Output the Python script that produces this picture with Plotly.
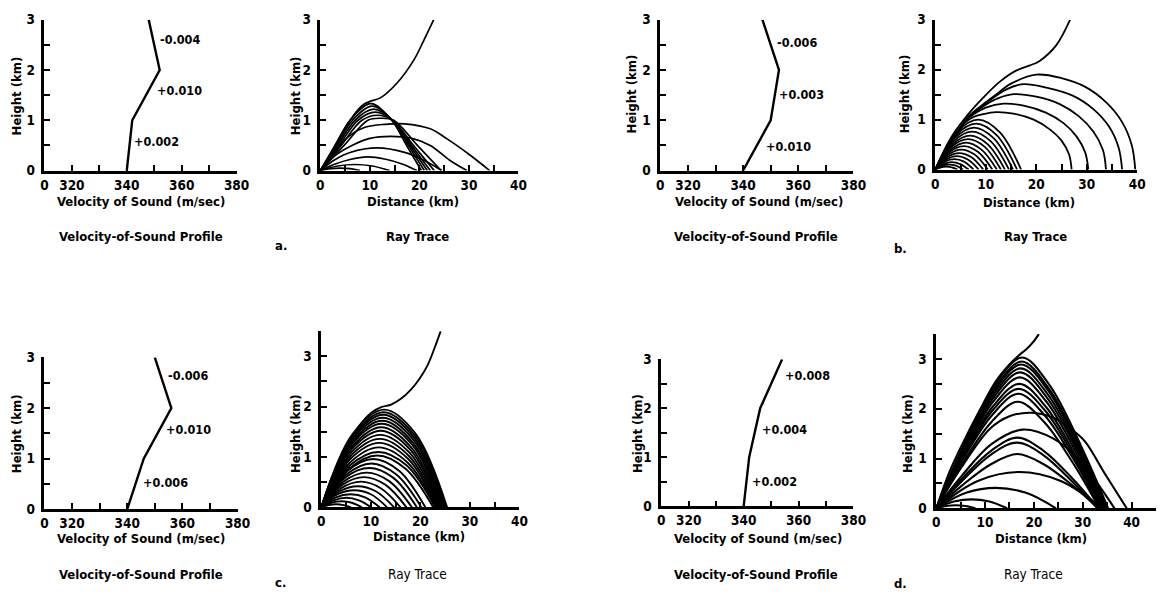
import plotly.graph_objects as go

W, H = 1169, 600

# ------------------------------------------------------------------ data
profile_height = [0, 1, 2, 3]
profile_a_speed = [340, 342, 352, 348]
profile_b_speed = [340, 350, 353, 347]
profile_c_speed = [340, 346, 356, 350]
profile_d_speed = [340, 342, 346, 354]

# gradient labels, bottom layer -> top layer
gradients_a = ["+0.002", "+0.010", "-0.004"]
gradients_b = ["+0.010", "+0.003", "-0.006"]
gradients_c = ["+0.006", "+0.010", "-0.006"]
gradients_d = ["+0.002", "+0.004", "+0.008"]

profile_x_ticks = [310, 320, 330, 340, 350, 360, 370, 380]
profile_x_text = ["0", "320", "", "340", "", "360", "", "380"]
height_ticks = [0, 0.5, 1, 1.5, 2, 2.5, 3, 3.5]
height_text = ["0", "", "1", "", "2", "", "3", ""]
dist_ticks = [0, 5, 10, 15, 20, 25, 30, 35, 40, 45]
dist_text = ["0", "", "10", "", "20", "", "30", "", "40", ""]

# ray paths (distance km, height km)
rays_a_x = [
    [0, 2.8, 5.5, 7.5, 8.8, 10.2, 12.2, 15.5, 18.9, 20.9, 22.9],
    [0, 3.0, 6.0, 10.2, 14.4, 17.4, 20.4],
    [0, 3.25, 6.5, 10.5, 14.5, 17.75, 21.0],
    [0, 3.5, 7.0, 10.8, 14.6, 18.1, 21.6],
    [0, 3.8, 7.6, 11.1, 14.6, 18.4, 22.2],
    [0, 4.2, 8.4, 11.5, 14.6, 18.8, 23.0],
    [0, 4.8, 9.6, 12.2, 14.8, 19.6, 24.4],
    [0, 3, 6, 9, 13, 17, 22.2, 25.6, 30.2, 34.2],
    [0, 3, 6.8, 10, 14.2, 18.5, 22.2, 26.2, 29.6],
    [0, 3, 6, 11.5, 17, 21, 24.5],
    [0, 3, 6, 9.5, 13, 16.5, 19.5],
    [0, 3.5, 7, 10.5, 14],
    [0, 2, 4, 6, 8],
]
rays_a_y = [
    [0, 0.47, 0.92, 1.2, 1.32, 1.38, 1.45, 1.74, 2.2, 2.59, 3.0],
    [0, 0.5, 1, 1.33, 1, 0.5, 0],
    [0, 0.5, 1, 1.28, 1, 0.5, 0],
    [0, 0.5, 1, 1.22, 1, 0.5, 0],
    [0, 0.5, 1, 1.16, 1, 0.5, 0],
    [0, 0.5, 1, 1.10, 1, 0.5, 0],
    [0, 0.5, 1, 1.04, 1, 0.5, 0],
    [0, 0.4, 0.7, 0.86, 0.92, 0.93, 0.83, 0.63, 0.31, 0],
    [0, 0.3, 0.52, 0.64, 0.68, 0.64, 0.5, 0.2, 0],
    [0, 0.22, 0.36, 0.45, 0.36, 0.2, 0],
    [0, 0.13, 0.22, 0.27, 0.23, 0.13, 0],
    [0, 0.09, 0.12, 0.09, 0],
    [0, 0.04, 0.05, 0.04, 0],
]

rays_b_x = [
    [0, 3, 6.3, 9.5, 12.8, 16, 18.6, 20.6, 23.9, 26.7],
    [0, 3.5, 6.5, 9, 12, 15, 20, 25, 29.8, 33.9, 37, 38.9, 39.6],
    [0, 3.5, 6.5, 8.5, 11, 14, 17.4, 22, 27.2, 31.3, 34.4, 36.3, 37],
    [0, 3.5, 6.3, 8, 10, 12.5, 15.5, 20, 24.65, 28.4, 31.3, 33.2, 33.8],
    [0, 3.5, 6.2, 7.8, 10, 13.5, 17.5, 21.9, 25.4, 28, 29.7, 30.3],
    [0, 3.5, 6, 7.5, 9.5, 12, 15.5, 19.5, 22.6, 25, 26.5, 27],
    [0, 4.25, 8.5, 12.75, 17],
    [0, 4.05, 8.1, 12.15, 16.2],
    [0, 3.85, 7.7, 11.55, 15.4],
    [0, 3.65, 7.3, 10.95, 14.6],
    [0, 3.45, 6.9, 10.35, 13.8],
    [0, 3.25, 6.5, 9.75, 13.0],
    [0, 3.05, 6.1, 9.15, 12.2],
    [0, 2.8, 5.65, 8.5, 11.3],
    [0, 2.6, 5.2, 7.8, 10.4],
    [0, 2.4, 4.75, 7.1, 9.5],
    [0, 2.15, 4.3, 6.45, 8.6],
    [0, 1.9, 3.8, 5.7, 7.6],
    [0, 1.65, 3.3, 4.95, 6.6],
    [0, 1.4, 2.75, 4.1, 5.5],
    [0, 1.1, 2.2, 3.3, 4.4],
]
rays_b_y = [
    [0, 0.62, 1.08, 1.44, 1.76, 1.98, 2.08, 2.17, 2.48, 3.0],
    [0, 0.62, 1.05, 1.27, 1.5, 1.72, 1.9, 1.83, 1.65, 1.34, 0.95, 0.49, 0],
    [0, 0.62, 1.04, 1.2, 1.4, 1.6, 1.71, 1.64, 1.48, 1.21, 0.86, 0.44, 0],
    [0, 0.62, 1.02, 1.16, 1.3, 1.43, 1.51, 1.46, 1.31, 1.07, 0.76, 0.39, 0],
    [0, 0.62, 1.0, 1.12, 1.24, 1.32, 1.28, 1.14, 0.93, 0.66, 0.34, 0],
    [0, 0.6, 0.95, 1.05, 1.11, 1.15, 1.12, 1.0, 0.81, 0.58, 0.3, 0],
    [0, 0.75, 1.0, 0.75, 0],
    [0, 0.69, 0.92, 0.69, 0],
    [0, 0.63, 0.84, 0.63, 0],
    [0, 0.57, 0.76, 0.57, 0],
    [0, 0.51, 0.68, 0.51, 0],
    [0, 0.46, 0.61, 0.46, 0],
    [0, 0.40, 0.54, 0.40, 0],
    [0, 0.35, 0.47, 0.35, 0],
    [0, 0.30, 0.40, 0.30, 0],
    [0, 0.25, 0.33, 0.25, 0],
    [0, 0.20, 0.27, 0.20, 0],
    [0, 0.16, 0.21, 0.16, 0],
    [0, 0.11, 0.15, 0.11, 0],
    [0, 0.08, 0.10, 0.08, 0],
    [0, 0.045, 0.06, 0.045, 0],
]

rays_c_x = [
    [0, 2.1, 4.8, 7.5, 10.1, 12.1, 14.1, 16, 18.1, 19.8, 21.5, 23, 24.1],
    [0, 6.35, 12.7, 19.05, 25.4],
    [0, 6.3, 12.6, 18.9, 25.2],
    [0, 6.25, 12.5, 18.75, 25.0],
    [0, 6.2, 12.4, 18.6, 24.8],
    [0, 6.15, 12.3, 18.45, 24.6],
    [0, 6.1, 12.2, 18.3, 24.4],
    [0, 6.05, 12.1, 18.15, 24.2],
    [0, 6.0, 12.0, 18.0, 24.0],
    [0, 5.95, 11.9, 17.85, 23.8],
    [0, 5.9, 11.8, 17.7, 23.6],
    [0, 5.85, 11.7, 17.55, 23.4],
    [0, 5.8, 11.6, 17.4, 23.2],
    [0, 5.75, 11.5, 17.25, 23.0],
    [0, 5.65, 11.3, 16.95, 22.6],
    [0, 5.25, 10.5, 15.75, 21.0],
    [0, 5.05, 10.1, 15.15, 20.2],
    [0, 4.8, 9.65, 14.5, 19.3],
    [0, 4.6, 9.15, 13.7, 18.3],
    [0, 4.3, 8.6, 12.9, 17.2],
    [0, 4.0, 8.0, 12.0, 16.0],
    [0, 3.7, 7.35, 11.0, 14.7],
    [0, 3.3, 6.65, 10.0, 13.3],
    [0, 2.95, 5.9, 8.85, 11.8],
    [0, 2.5, 5.05, 7.6, 10.1],
    [0, 2.05, 4.1, 6.15, 8.2],
    [0, 1.5, 3.0, 4.5, 6.0],
]
rays_c_y = [
    [0, 0.58, 1.15, 1.6, 1.88, 1.99, 2.04, 2.15, 2.34, 2.55, 2.83, 3.2, 3.5],
    [0, 1.46, 1.94, 1.46, 0],
    [0, 1.42, 1.89, 1.42, 0],
    [0, 1.38, 1.84, 1.38, 0],
    [0, 1.34, 1.78, 1.34, 0],
    [0, 1.29, 1.72, 1.29, 0],
    [0, 1.25, 1.66, 1.25, 0],
    [0, 1.19, 1.59, 1.19, 0],
    [0, 1.14, 1.52, 1.14, 0],
    [0, 1.08, 1.44, 1.08, 0],
    [0, 1.02, 1.36, 1.02, 0],
    [0, 0.96, 1.28, 0.96, 0],
    [0, 0.89, 1.19, 0.89, 0],
    [0, 0.83, 1.10, 0.83, 0],
    [0, 0.77, 1.03, 0.77, 0],
    [0, 0.72, 0.96, 0.72, 0],
    [0, 0.65, 0.87, 0.65, 0],
    [0, 0.59, 0.78, 0.59, 0],
    [0, 0.52, 0.69, 0.52, 0],
    [0, 0.45, 0.60, 0.45, 0],
    [0, 0.38, 0.51, 0.38, 0],
    [0, 0.32, 0.42, 0.32, 0],
    [0, 0.26, 0.34, 0.26, 0],
    [0, 0.20, 0.26, 0.20, 0],
    [0, 0.14, 0.19, 0.14, 0],
    [0, 0.09, 0.12, 0.09, 0],
    [0, 0.045, 0.06, 0.045, 0],
]

rays_d_x = [
    [0, 2.8, 5.5, 8.9, 12.2, 14.9, 16.9, 18.5, 20, 21],
    [0, 5.63, 11.97, 17.6, 23.23, 29.57, 35.2],
    [0, 5.6, 11.9, 17.5, 23.1, 29.4, 35.0],
    [0, 5.57, 11.83, 17.4, 22.97, 29.23, 34.8],
    [0, 5.54, 11.76, 17.3, 22.84, 29.06, 34.6],
    [0, 5.5, 11.7, 17.2, 22.7, 28.9, 34.4],
    [0, 5.47, 11.63, 17.1, 22.57, 28.73, 34.2],
    [0, 5.44, 11.56, 17.0, 22.44, 28.56, 34.0],
    [0, 5.41, 11.49, 16.9, 22.31, 28.39, 33.8],
    [0, 5.38, 11.42, 16.8, 22.18, 28.22, 33.6],
    [0, 5.34, 11.36, 16.7, 22.04, 28.06, 33.4],
    [0, 5, 11, 15, 19.5, 24, 27.5, 30.4, 34.5, 39],
    [0, 5.3, 11.3, 17.6, 24, 29, 33, 36.5],
    [0, 5.31, 11.29, 16.6, 21.91, 27.89, 33.2],
    [0, 5.28, 11.22, 16.5, 21.78, 27.72, 33.0],
    [0, 5.31, 11.29, 16.6, 21.91, 27.89, 33.2],
    [0, 8.5, 17, 25.5, 34],
    [0, 6.1, 12.25, 18.4, 24.5],
    [0, 3.6, 7.25, 10.9, 14.5],
    [0, 2, 4, 6, 8],
]
rays_d_y = [
    [0, 0.75, 1.32, 1.97, 2.55, 2.88, 3.07, 3.2, 3.36, 3.5],
    [0, 1.27, 2.47, 3.03, 2.47, 1.27, 0],
    [0, 1.24, 2.40, 2.95, 2.40, 1.24, 0],
    [0, 1.21, 2.36, 2.89, 2.36, 1.21, 0],
    [0, 1.18, 2.29, 2.81, 2.29, 1.18, 0],
    [0, 1.15, 2.22, 2.73, 2.22, 1.15, 0],
    [0, 1.10, 2.14, 2.63, 2.14, 1.10, 0],
    [0, 1.05, 2.04, 2.50, 2.04, 1.05, 0],
    [0, 1.01, 1.96, 2.40, 1.96, 1.01, 0],
    [0, 0.97, 1.87, 2.30, 1.87, 0.97, 0],
    [0, 0.90, 1.74, 2.14, 1.74, 0.90, 0],
    [0, 0.8, 1.6, 1.85, 1.92, 1.82, 1.6, 1.35, 0.7, 0],
    [0, 0.66, 1.29, 1.58, 1.4, 1.0, 0.5, 0],
    [0, 0.60, 1.16, 1.42, 1.16, 0.60, 0],
    [0, 0.55, 1.08, 1.32, 1.08, 0.55, 0],
    [0, 0.46, 0.89, 1.09, 0.89, 0.46, 0],
    [0, 0.55, 0.73, 0.55, 0],
    [0, 0.31, 0.41, 0.31, 0],
    [0, 0.135, 0.18, 0.135, 0],
    [0, 0.045, 0.06, 0.045, 0],
]

# ------------------------------------------------------------------ layout helpers
FONT = "Liberation Sans Narrow, DejaVu Sans Condensed, Arial Narrow, sans-serif"


def px_x(v):
    return v / W


def px_y(v):
    return 1 - v / H


# (x-domain px, y-domain px bottom/top, x range, y range, kind)
panels = [
    ((41, 236), (167, 12), [310, 380], [0, 3], "profile"),
    ((321, 522), (167, 12), [0, 40], [0, 3], "ray"),
    ((666, 862), (167, 12), [310, 380], [0, 3], "profile"),
    ((945, 1150), (166, 12), [0, 40], [0, 3], "ray"),
    ((41, 237), (515, 359), [310, 380], [0, 3], "profile"),
    ((322, 523), (513, 332), [0, 40], [0, 3.5], "ray"),
    ((667, 862), (512, 361), [310, 380], [0, 3], "profile"),
    ((946, 1169), (514, 335), [0, 45], [0, 3.5], "ray"),
]

fig = go.Figure()
layout = dict(
    width=W, height=H, autosize=False,
    margin=dict(l=0, r=0, t=0, b=0),
    paper_bgcolor="white", plot_bgcolor="white",
    showlegend=False,
    font=dict(family=FONT, color="black"),
)

tickfont = dict(family=FONT, size=13.5, color="black", weight="bold")

for i, (xd, yd, xr, yr, kind) in enumerate(panels, start=1):
    sx = "" if i == 1 else str(i)
    if kind == "profile":
        xt, xtt = profile_x_ticks, profile_x_text
    else:
        xt = [v for v in dist_ticks if v <= xr[1]]
        xtt = dist_text[:len(xt)]
    yt = [v for v in height_ticks if v <= yr[1]]
    ytt = height_text[:len(yt)]
    common = dict(showline=True, linewidth=2.6, linecolor="black", mirror=False,
                  ticks="inside", ticklen=6, tickwidth=2, tickcolor="black",
                  showgrid=False, zeroline=False, fixedrange=True,
                  tickfont=tickfont, tickmode="array")
    layout["xaxis" + sx] = dict(common, domain=[px_x(xd[0]), px_x(xd[1])], range=xr,
                                tickvals=xt, ticktext=xtt, anchor="y" + sx, ticklabelstandoff=0)
    layout["yaxis" + sx] = dict(common, domain=[px_y(yd[0]), px_y(yd[1])], range=yr,
                                tickvals=yt, ticktext=ytt, anchor="x" + sx, ticklabelstandoff=4)

# ------------------------------------------------------------------ traces
profiles = [profile_a_speed, profile_b_speed, profile_c_speed, profile_d_speed]
for k, speeds in enumerate(profiles):
    ax = 2 * k + 1
    sx = "" if ax == 1 else str(ax)
    fig.add_trace(go.Scatter(x=speeds, y=profile_height, mode="lines",
                             line=dict(color="black", width=2.4),
                             xaxis="x" + sx, yaxis="y" + sx, hoverinfo="skip"))

ray_sets = [(rays_a_x, rays_a_y, 1.7), (rays_b_x, rays_b_y, 1.8),
            (rays_c_x, rays_c_y, 1.9), (rays_d_x, rays_d_y, 2.1)]
for k, (rx, ry, lw) in enumerate(ray_sets):
    ax = str(2 * k + 2)
    for xs, ys in zip(rx, ry):
        fig.add_trace(go.Scatter(x=xs, y=ys, mode="lines",
                                 line=dict(color="black", width=lw, shape="spline", smoothing=1.0),
                                 xaxis="x" + ax, yaxis="y" + ax, hoverinfo="skip"))

# ------------------------------------------------------------------ text
ann = []


def text(s, x, y, size=12.5, bold=True, angle=0):
    ann.append(dict(text=s, x=px_x(x), y=px_y(y), xref="paper", yref="paper",
                    showarrow=False, xanchor="center", yanchor="middle", textangle=angle,
                    font=dict(family=FONT, size=size, color="black",
                              weight="bold" if bold else "normal")))


# gradient labels
grad_pos = [
    (gradients_a, [(155, 137), (178, 85), (179, 32)]),
    (gradients_b, [(796, 142), (809, 89), (805, 35)]),
    (gradients_c, [(164, 487), (187, 433), (187, 378)]),
    (gradients_d, [(782, 486), (792, 433), (815, 378)]),
]
for labels, pos in grad_pos:
    for s, (x, y) in zip(labels, pos):
        text(s, x, y, size=12.5)

# axis titles
for x, y in [(13, 90), (296, 90), (637, 88), (914, 88), (13, 437), (296, 437), (643, 437), (917, 437)]:
    text("Height (km)", x, y, size=13, angle=-90)
for x, y in [(139, 199), (766, 199), (139, 545), (765, 545)]:
    text("Velocity of Sound (m/sec)", x, y, size=13)
for x, y in [(415, 199), (1040, 200), (421, 543), (1052, 545)]:
    text("Distance (km)", x, y, size=13)
for x, y in [(139, 235), (763, 235), (139, 582), (763, 582)]:
    text("Velocity-of-Sound Profile", x, y, size=13)
text("Ray Trace", 420, 235, size=13)
text("Ray Trace", 1047, 235, size=13)
text("Ray Trace", 420, 582, size=13.5, bold=False)
text("Ray Trace", 1045, 582, size=13.5, bold=False)
for s, x, y in [("a.", 281, 244), ("b.", 910, 247), ("c.", 281, 590), ("d.", 910, 591)]:
    text(s, x, y, size=13)

layout["annotations"] = ann
fig.update_layout(**layout)
fig.write_html("out.html")
